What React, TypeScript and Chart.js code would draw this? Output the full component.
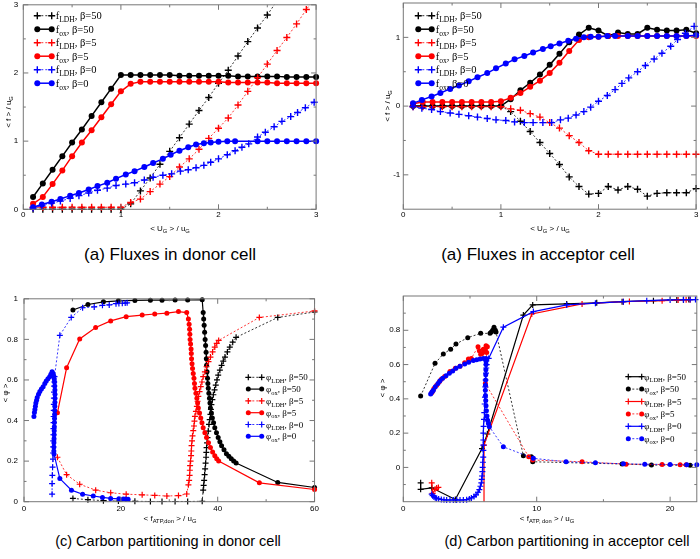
import React, { useEffect, useRef } from "react";
import { Chart, registerables } from "chart.js";
Chart.register(...registerables);

// ---------------- DATA ----------------
// (a) Fluxes in donor cell
const A_X = [0.1,0.2,0.3,0.4,0.5,0.6,0.7,0.8,0.9,1.0,1.1,1.2,1.3,1.4,1.5,1.6,1.7,1.8,1.9,2.0,2.1,2.2,2.3,2.4,2.5,2.6,2.7,2.8,2.9,3.0];
const A_LDH50 = [0,0,0,0,0,0,0,0,0,0,0.08,0.27,0.46,0.66,0.85,1.05,1.25,1.45,1.64,1.85,2.04,2.25,2.46,2.66,2.85,3.06,3.26,3.46,3.66,3.86];
const A_OX50 = [0.18,0.38,0.58,0.78,0.98,1.17,1.37,1.57,1.77,1.97,1.97,1.97,1.97,1.97,1.97,1.96,1.96,1.96,1.96,1.96,1.96,1.95,1.95,1.95,1.95,1.95,1.94,1.94,1.94,1.94];
const A_LDH5 = [0.03,0.03,0.03,0.03,0.03,0.03,0.03,0.03,0.03,0.03,0.1,0.15,0.26,0.37,0.48,0.62,0.74,0.88,1.04,1.19,1.34,1.53,1.73,1.93,2.13,2.33,2.52,2.72,2.93,3.13];
const A_OX5 = [0.08,0.18,0.37,0.57,0.78,0.98,1.16,1.35,1.54,1.73,1.84,1.87,1.87,1.87,1.87,1.87,1.87,1.87,1.87,1.87,1.86,1.86,1.86,1.86,1.86,1.85,1.85,1.85,1.85,1.85];
const A_LDH0_X = [0.1,0.19,0.29,0.38,0.48,0.57,0.67,0.76,0.86,0.95,1.05,1.14,1.24,1.33,1.43,1.52,1.61,1.69,1.77,1.85,1.92,2.0,2.09,2.17,2.24,2.31,2.4,2.48,2.57,2.65,2.74,2.81,2.89,2.98];
const A_LDH0 = [0.02,0.05,0.09,0.12,0.16,0.2,0.24,0.28,0.31,0.35,0.37,0.39,0.43,0.47,0.5,0.52,0.56,0.58,0.61,0.645,0.69,0.74,0.8,0.86,0.91,0.96,1.06,1.13,1.21,1.29,1.36,1.42,1.49,1.57];
const A_OX0_X = [0.1,0.19,0.29,0.38,0.48,0.57,0.67,0.76,0.86,0.95,1.05,1.14,1.24,1.33,1.43,1.51,1.6,1.69,1.77,1.85,1.92,2.0,2.09,2.17,2.4,2.5,2.6,2.7,2.8,2.9,3.0];
const A_OX0 = [0.03,0.07,0.11,0.15,0.2,0.24,0.29,0.34,0.39,0.45,0.51,0.56,0.62,0.68,0.74,0.8,0.86,0.91,0.95,0.97,0.98,0.99,1.0,1.0,1.0,1.0,1.0,1.0,1.0,1.0,1.0];
const A_X_TICKS = [0, 1, 2, 3];
const A_Y_TICKS = [0, 1, 2, 3];
const A_X_MINOR = [0.5, 1.5, 2.5];
const A_Y_MINOR = [0.5, 1.5, 2.5];

// (b) Fluxes in acceptor cell
const B_X = [0.1,0.2,0.3,0.4,0.5,0.6,0.7,0.8,0.9,1.0,1.1,1.2,1.3,1.4,1.5,1.6,1.7,1.8,1.9,2.0,2.1,2.2,2.3,2.4,2.5,2.6,2.7,2.8,2.9,3.0];
const B_LDH50 = [0,0,0,0,0,0,0,0,0,0,-0.08,-0.22,-0.37,-0.53,-0.69,-0.85,-1.03,-1.17,-1.28,-1.27,-1.17,-1.22,-1.17,-1.21,-1.31,-1.27,-1.26,-1.26,-1.26,-1.2];
const B_OX50 = [0,0,0,0,0,0,0,0,0,0,0.1,0.23,0.34,0.46,0.6,0.76,0.93,1.04,1.14,1.1,1.02,1.07,1.05,1.05,1.14,1.11,1.1,1.1,1.11,1.06];
const B_LDH5 = [-0.01,-0.01,-0.01,-0.01,-0.01,-0.01,-0.01,-0.01,-0.01,-0.01,-0.04,-0.06,-0.11,-0.16,-0.24,-0.32,-0.43,-0.53,-0.65,-0.7,-0.7,-0.7,-0.7,-0.7,-0.7,-0.7,-0.7,-0.7,-0.7,-0.7];
const B_OX5 = [0.035,0.06,0.06,0.06,0.06,0.06,0.06,0.06,0.06,0.07,0.12,0.19,0.28,0.37,0.48,0.63,0.8,0.96,1.0,1.01,1.02,1.02,1.02,1.02,1.02,1.02,1.02,1.02,1.02,1.02];
const B_LDH0_X = [0.1,0.19,0.29,0.38,0.48,0.57,0.67,0.76,0.86,0.95,1.05,1.14,1.24,1.33,1.43,1.52,1.61,1.69,1.77,1.85,1.92,2.0,2.09,2.17,2.24,2.31,2.4,2.48,2.57,2.65,2.74,2.81,2.89,2.98];
const B_LDH0 = [-0.01,-0.03,-0.05,-0.08,-0.1,-0.12,-0.14,-0.16,-0.18,-0.2,-0.21,-0.23,-0.24,-0.24,-0.24,-0.24,-0.2,-0.175,-0.13,-0.08,-0.015,0.07,0.155,0.24,0.33,0.41,0.5,0.59,0.685,0.77,0.87,0.97,1.06,1.16];
const B_OX0_X = [0.1,0.19,0.29,0.38,0.48,0.57,0.67,0.76,0.86,0.95,1.05,1.14,1.24,1.33,1.43,1.51,1.6,1.69,1.77,1.85,1.92,2.0,2.09,2.17,2.3,2.4,2.5,2.6,2.7,2.8,2.9,3.0];
const B_OX0 = [0.04,0.09,0.14,0.19,0.25,0.3,0.36,0.42,0.48,0.55,0.62,0.68,0.73,0.78,0.83,0.87,0.91,0.95,0.98,1.0,1.01,1.01,1.02,1.02,1.02,1.02,1.02,1.02,1.02,1.02,1.02,1.03];
const B_X_TICKS = [0, 1, 2, 3];
const B_Y_TICKS = [-1, 0, 1];
const B_X_MINOR = [0.5, 1.5, 2.5];
const B_Y_MINOR = [-0.5, 0.5];

// (c) Carbon partitioning in donor cell
const C_OX50_X = [10.1,13.2,16.4,19.5,22.9,26.1,28.5,31.2,33.8,36.8,37.0,37.1,37.2,37.3,37.4,37.5,37.6,37.65,37.7,37.8,37.9,37.97,38.05,38.17,38.3,38.4,38.5,38.7,38.9,39.15,39.4,39.75,40.1,40.45,40.8,41.3,41.8,42.3,42.8,43.3,43.8,52.4,60];
const C_OX50 = [0.945,0.972,0.985,0.99,0.992,0.993,0.993,0.994,0.994,0.995,0.932,0.9,0.87,0.835,0.8,0.77,0.737,0.705,0.672,0.64,0.608,0.583,0.559,0.535,0.51,0.486,0.462,0.437,0.413,0.389,0.365,0.34,0.316,0.296,0.276,0.256,0.236,0.224,0.212,0.2,0.191,0.095,0.07];
const C_LDH50_X = [10.1,13.2,16.4,19.5,22.9,26.1,28.5,31.2,33.8,36.8,37.0,37.1,37.2,37.3,37.4,37.5,37.6,37.65,37.7,37.8,37.9,38.05,38.2,38.35,38.5,38.6,38.7,38.9,39.1,39.35,39.6,39.85,40.1,40.45,40.8,41.15,41.5,42.0,42.5,43.1,43.8,52.4,60];
const C_LDH50 = [0.016,0.01,0.005,0.003,0.002,0.001,0.001,0.001,0.001,0.002,0.057,0.08,0.105,0.133,0.162,0.19,0.219,0.243,0.267,0.29,0.316,0.348,0.381,0.405,0.43,0.455,0.478,0.503,0.527,0.551,0.575,0.6,0.624,0.648,0.672,0.693,0.713,0.738,0.762,0.786,0.81,0.908,0.935];
const C_B5_X = [6.9,8.8,11.5,14.8,17.9,21.1,24.4,27.0,29.5,31.9,33.6,33.95,34.1,34.2,34.25,34.3,34.4,34.5,34.55,34.6,34.7,34.8,34.95,35.1,35.2,35.3,35.5,35.7,35.85,36.0,36.25,36.5,36.75,37.0,37.35,37.7,38.1,38.5,38.95,39.4,39.8,40.2,48.6,60];
const C_OX5 = [0.438,0.66,0.802,0.859,0.891,0.912,0.92,0.925,0.929,0.937,0.932,0.9,0.875,0.85,0.825,0.8,0.777,0.753,0.73,0.705,0.68,0.656,0.632,0.608,0.583,0.559,0.535,0.51,0.486,0.462,0.437,0.413,0.389,0.365,0.34,0.316,0.29,0.267,0.245,0.227,0.212,0.2,0.093,0.06];
const C_LDH5 = [0.219,0.133,0.086,0.057,0.044,0.037,0.034,0.031,0.028,0.03,0.038,0.083,0.105,0.13,0.155,0.178,0.2,0.227,0.25,0.276,0.3,0.324,0.35,0.373,0.397,0.421,0.445,0.47,0.495,0.519,0.543,0.567,0.59,0.616,0.64,0.665,0.69,0.713,0.738,0.762,0.78,0.795,0.908,0.94];
const C_OX0_X = [2.05,2.15,2.25,2.35,2.45,2.6,2.73,3.0,3.27,3.6,3.95,4.3,4.6,4.95,5.3,5.55,5.8,6.0,6.15,6.25,6.3,6.35,6.38,6.4,6.4,6.38,6.36,6.34,6.32,6.3,6.28,6.26,6.24,6.22,6.2,6.18,6.17,6.16,6.2,7.4,9.8,12.1,14.3,16.2,17.9,19.6,20.5,21.0,21.5];
const C_OX0 = [0.42,0.44,0.454,0.47,0.487,0.5,0.514,0.53,0.543,0.555,0.567,0.582,0.595,0.606,0.616,0.628,0.64,0.632,0.62,0.605,0.59,0.57,0.55,0.53,0.51,0.49,0.47,0.45,0.43,0.41,0.39,0.37,0.35,0.33,0.31,0.29,0.27,0.25,0.235,0.114,0.057,0.037,0.028,0.021,0.016,0.014,0.013,0.013,0.012];
const C_LDH0_X = [5.8,5.8,5.85,5.9,5.98,6.0,6.02,6.04,6.06,6.08,6.1,6.12,6.14,6.16,6.18,6.2,6.22,6.25,6.3,7.4,9.75,12.1,14.5,16.2,17.6,19.0,19.6,20.3,20.9,21.3];
const C_LDH0 = [0.037,0.089,0.13,0.17,0.21,0.24,0.27,0.3,0.33,0.36,0.39,0.42,0.45,0.48,0.51,0.54,0.57,0.59,0.616,0.82,0.908,0.956,0.96,0.968,0.97,0.976,0.977,0.978,0.979,0.98];
const C_X_TICKS = [0, 20, 40, 60];
const C_Y_TICKS = [0, 0.2, 0.4, 0.6, 0.8, 1];
const C_X_MINOR = [10, 30, 50];
const C_Y_MINOR = [0.1, 0.3, 0.5, 0.7, 0.9];

// (d) Carbon partitioning in acceptor cell
const D_LDH50_X = [1.3,1.3,2.13,3.9,5.9,6.3,9.0,9.7,12.25,14.5,16.4,18.75,20.5,21.0,21.4];
const D_LDH50 = [-0.09,-0.128,-0.119,-0.187,0.11,0.195,0.889,0.948,0.954,0.96,0.967,0.973,0.977,0.978,0.979];
const D_OX50_X = [1.3,2.38,3.0,3.55,3.95,4.83,5.8,6.5,6.6,6.7,6.8,6.9,6.95,9.0,9.6,9.7,16.4,18.6,21.5];
const D_OX50 = [0.416,0.607,0.662,0.69,0.72,0.757,0.782,0.782,0.79,0.8,0.818,0.8,0.79,0.068,0.062,0.033,0.02,0.014,0.012];
const D_LDH5_X = [2.13,2.2,2.38,2.5,2.63,4.0,6.05,6.05,9.63,13.4,16.5,16.95,19.4,20.6,21.2,21.5];
const D_LDH5 = [-0.09,-0.152,-0.128,-0.12,-0.117,null,-0.25,0.13,0.895,0.954,0.967,0.968,0.973,0.976,0.978,0.978];
const D_OX5_X = [2.13,2.2,2.3,2.5,2.7,2.85,3.1,3.5,3.9,4.25,4.6,4.88,5.1,5.6,5.7,5.8,5.9,6.0,6.1,6.15,6.2,6.3,6.25,6.15,9.4,9.7,13.4,16.7,19.4,20.75,21.2];
const D_OX5 = [0.436,0.445,0.46,0.48,0.5,0.515,0.53,0.56,0.578,0.59,0.61,0.632,0.636,0.704,0.68,0.66,0.665,0.69,0.675,0.686,0.71,0.704,0.67,0.49,0.062,0.043,0.033,0.019,0.017,0.016,0.016];
const D_LDH0_X = [2.13,2.2,2.3,2.4,2.5,2.65,2.85,3.05,3.25,3.5,3.75,4.0,4.25,4.5,4.75,4.95,5.1,5.3,5.45,5.6,5.7,5.78,5.85,5.88,5.9,5.93,5.95,5.97,5.99,6.0,6.0,6.0,6.0,6.02,6.05,6.07,6.1,6.12,6.15,6.17,6.2,6.22,6.25,6.4,7.5,9.75,12.25,14.4,16.5,18.25,20.0,21.0,21.5,21.9];
const D_LDH0 = [-0.156,-0.165,-0.172,-0.177,-0.18,-0.184,-0.187,-0.189,-0.19,-0.19,-0.19,-0.19,-0.19,-0.19,-0.188,-0.184,-0.178,-0.17,-0.16,-0.145,-0.13,-0.11,-0.09,-0.07,-0.05,-0.025,0.0,0.03,0.06,0.1,0.13,0.16,0.2,0.24,0.28,0.32,0.37,0.41,0.47,0.51,0.55,0.58,0.6,0.636,0.818,0.909,0.948,0.958,0.967,0.973,0.977,0.978,0.979,0.979];
const D_OX0_X = [2.05,2.15,2.25,2.4,2.6,2.75,2.95,3.2,3.45,3.7,3.95,4.25,4.6,4.9,5.25,5.5,5.75,6.0,6.2,6.2,6.2,6.19,6.18,6.17,6.16,6.15,6.16,6.18,6.2,6.23,6.27,6.32,6.38,6.45,7.5,9.75,12.2,14.4,16.5,18.1,20.0,21.25,22.0];
const D_OX0 = [0.428,0.44,0.45,0.47,0.49,0.505,0.52,0.535,0.549,0.563,0.578,0.59,0.603,0.613,0.623,0.628,0.632,0.635,0.636,0.62,0.6,0.57,0.54,0.51,0.48,0.45,0.42,0.39,0.36,0.33,0.3,0.275,0.256,0.237,0.12,0.053,0.033,0.027,0.021,0.019,0.017,0.016,0.016];
const D_X_TICKS = [0, 10, 20];
const D_Y_TICKS = [0, 0.2, 0.4, 0.6, 0.8];
const D_X_MINOR = [5, 15];
const D_Y_MINOR = [-0.1, 0.1, 0.3, 0.5, 0.7, 0.9];

const BETAS = ["50", "5", "0"];
const CAPTIONS = [
  "(a) Fluxes in donor cell",
  "(a) Fluxes in acceptor cell",
  "(c) Carbon partitioning in donor cell",
  "(d) Carbon partitioning in acceptor cell",
];

// ---------------- STYLE / RENDER ----------------
const BLACK = "#000000";
const RED = "#ff0000";
const BLUE = "#0000ff";
const FRAME = "#777777";
const SANS = '"Liberation Sans", Arial, Helvetica, sans-serif';
const SERIF = '"Liberation Serif", "Times New Roman", serif';

type Seg = { t: string; sub?: boolean };
type Marker = "circle" | "cross";
type Series = { xs: number[]; ys: (number | null)[]; color: string; marker: Marker; dashed: boolean; clip?: any };
type LegendItem = { segs: Seg[]; color: string; marker: Marker; dashed: boolean };
type Title = { segs: Seg[]; x: number; y: number; rotate?: boolean };
type Spec = {
  left: number; top: number; width: number; height: number;
  yAxisW: number; xAxisH: number;
  xMin: number; xMax: number; yMin: number; yMax: number;
  xTicks: number[]; yTicks: number[]; xMinor: number[]; yMinor: number[];
  xPad: number; yPad: number; tickFont: number;
  rCircle: number; rCross: number; crossW: number; solidW: number; dashW: number;
  series: Series[];
  legend: { x0: number; w: number; textX: number; y0: number; dy: number; size: number; items: LegendItem[] };
  titles: Title[]; titleSize: number;
};

const COLORS = [BLACK, RED, BLUE];

function legendItems(sym: string, ldhDashed: boolean): LegendItem[] {
  const out: LegendItem[] = [];
  BETAS.forEach((b, i) => {
    out.push({ segs: [{ t: sym }, { t: "LDH", sub: true }, { t: ", \u03b2=" + b }], color: COLORS[i], marker: "cross", dashed: ldhDashed });
    out.push({ segs: [{ t: sym }, { t: "ox", sub: true }, { t: ", \u03b2=" + b }], color: COLORS[i], marker: "circle", dashed: !ldhDashed });
  });
  return out;
}

function drawRich(ctx: CanvasRenderingContext2D, segs: Seg[], x: number, yMid: number, size: number, family: string, align: "left" | "center", color: string) {
  const sub = size * 0.72;
  let w = 0;
  for (const s of segs) {
    ctx.font = `${s.sub ? sub : size}px ${family}`;
    w += ctx.measureText(s.t).width;
  }
  let cx = align === "center" ? x - w / 2 : x;
  const base = yMid + size * 0.35;
  ctx.fillStyle = color;
  ctx.textAlign = "left";
  ctx.textBaseline = "alphabetic";
  for (const s of segs) {
    ctx.font = `${s.sub ? sub : size}px ${family}`;
    ctx.fillText(s.t, cx, s.sub ? base + size * 0.28 : base);
    cx += ctx.measureText(s.t).width;
  }
}

function drawMarker(ctx: CanvasRenderingContext2D, m: Marker, x: number, y: number, spec: Spec, color: string) {
  ctx.setLineDash([]);
  if (m === "circle") {
    ctx.fillStyle = color;
    ctx.beginPath();
    ctx.arc(x, y, spec.rCircle, 0, Math.PI * 2);
    ctx.fill();
  } else {
    ctx.strokeStyle = color;
    ctx.lineWidth = spec.crossW;
    ctx.beginPath();
    ctx.moveTo(x - spec.rCross, y);
    ctx.lineTo(x + spec.rCross, y);
    ctx.moveTo(x, y - spec.rCross);
    ctx.lineTo(x, y + spec.rCross);
    ctx.stroke();
  }
}

function decoPlugin(spec: Spec) {
  return {
    id: "deco",
    afterDraw(chart: any) {
      const ctx: CanvasRenderingContext2D = chart.ctx;
      const a = chart.chartArea;
      const xs = chart.scales.x;
      const ys = chart.scales.y;
      const ox = spec.left;
      const oy = spec.top;
      ctx.save();
      ctx.setLineDash([]);
      ctx.strokeStyle = FRAME;
      ctx.lineWidth = 1;
      ctx.strokeRect(a.left, a.top, a.right - a.left, a.bottom - a.top);
      const xt = (v: number, len: number) => {
        const p = xs.getPixelForValue(v);
        ctx.moveTo(p, a.bottom); ctx.lineTo(p, a.bottom - len);
        ctx.moveTo(p, a.top); ctx.lineTo(p, a.top + len);
      };
      const yt = (v: number, len: number) => {
        const p = ys.getPixelForValue(v);
        ctx.moveTo(a.left, p); ctx.lineTo(a.left + len, p);
        ctx.moveTo(a.right, p); ctx.lineTo(a.right - len, p);
      };
      ctx.beginPath();
      spec.xTicks.forEach((v) => xt(v, 5));
      spec.xMinor.forEach((v) => xt(v, 2.5));
      spec.yTicks.forEach((v) => yt(v, 5));
      spec.yMinor.forEach((v) => yt(v, 2.5));
      ctx.stroke();
      for (const t of spec.titles) {
        if (t.rotate) {
          ctx.save();
          ctx.translate(t.x - ox, t.y - oy);
          ctx.rotate(-Math.PI / 2);
          drawRich(ctx, t.segs, 0, 0, spec.titleSize, SANS, "center", "#000");
          ctx.restore();
        } else {
          drawRich(ctx, t.segs, t.x - ox, t.y - oy, spec.titleSize, SANS, "center", "#000");
        }
      }
      const L = spec.legend;
      L.items.forEach((it, i) => {
        const y = L.y0 + i * L.dy - oy;
        const x0 = L.x0 - ox;
        ctx.strokeStyle = it.color;
        ctx.lineWidth = it.dashed ? spec.dashW : spec.solidW;
        ctx.setLineDash(it.dashed ? [2, 2] : []);
        ctx.beginPath();
        ctx.moveTo(x0, y);
        ctx.lineTo(x0 + L.w, y);
        ctx.stroke();
        drawMarker(ctx, it.marker, x0, y, spec, it.color);
        drawMarker(ctx, it.marker, x0 + L.w, y, spec, it.color);
        drawRich(ctx, it.segs, L.textX - ox, y, L.size, SERIF, "left", "#000");
      });
      ctx.restore();
    },
  };
}

function buildConfig(spec: Spec): any {
  const n = spec.series.length;
  const datasets = spec.series.map((s, i) => ({
    data: s.xs.map((x, k) => ({ x, y: s.ys[k] })),
    borderColor: s.color,
    backgroundColor: s.color,
    borderWidth: s.dashed ? spec.dashW : spec.solidW,
    borderDash: s.dashed ? [2, 2] : [],
    pointStyle: s.marker === "circle" ? "circle" : "cross",
    pointRadius: s.marker === "circle" ? spec.rCircle : spec.rCross,
    pointHoverRadius: s.marker === "circle" ? spec.rCircle : spec.rCross,
    pointBorderWidth: s.marker === "circle" ? 0 : spec.crossW,
    pointBackgroundColor: s.color,
    pointBorderColor: s.color,
    tension: 0,
    spanGaps: false,
    fill: false,
    clip: s.clip ?? 8,
    order: n - i,
  }));
  const tickFont = { family: SANS, size: spec.tickFont };
  return {
    type: "line",
    data: { datasets },
    options: {
      responsive: false,
      animation: false,
      devicePixelRatio: 1,
      events: [],
      layout: { padding: { left: 0, top: 8, right: 4, bottom: 0 } },
      plugins: { legend: { display: false }, tooltip: { enabled: false } },
      scales: {
        x: {
          type: "linear",
          min: spec.xMin,
          max: spec.xMax,
          grid: { display: false, drawTicks: false },
          border: { display: false },
          afterBuildTicks: (ax: any) => { ax.ticks = spec.xTicks.map((v) => ({ value: v })); },
          afterFit: (ax: any) => { ax.height = spec.xAxisH; },
          ticks: { padding: spec.xPad, font: tickFont, color: "#000", autoSkip: false, maxRotation: 0, callback: (v: any) => String(v) },
        },
        y: {
          type: "linear",
          min: spec.yMin,
          max: spec.yMax,
          grid: { display: false, drawTicks: false },
          border: { display: false },
          afterBuildTicks: (ax: any) => { ax.ticks = spec.yTicks.map((v) => ({ value: v })); },
          afterFit: (ax: any) => { ax.width = spec.yAxisW; },
          ticks: { padding: spec.yPad, font: tickFont, color: "#000", autoSkip: false, callback: (v: any) => String(v) },
        },
      },
    },
    plugins: [decoPlugin(spec)],
  };
}

function Panel({ spec }: { spec: Spec }) {
  const ref = useRef<HTMLCanvasElement>(null);
  useEffect(() => {
    const chart = new Chart(ref.current as HTMLCanvasElement, buildConfig(spec));
    return () => chart.destroy();
  }, [spec]);
  return (
    <canvas
      ref={ref}
      width={spec.width}
      height={spec.height}
      style={{ position: "absolute", left: spec.left, top: spec.top, width: spec.width, height: spec.height }}
    />
  );
}

const TOP_STYLE = { tickFont: 8, rCircle: 3, rCross: 3.5, crossW: 1.4, solidW: 1.5, dashW: 0.8, titleSize: 8 };
const BOT_STYLE = { tickFont: 8, rCircle: 2.5, rCross: 3, crossW: 1.2, solidW: 1.2, dashW: 0.8, titleSize: 8 };

const fTitleY: Seg[] = [{ t: "< f > / u" }, { t: "G", sub: true }];
const fTitleX: Seg[] = [{ t: "< U" }, { t: "G", sub: true }, { t: " > / u" }, { t: "G", sub: true }];
const phiTitle: Seg[] = [{ t: "< \u03c6 >" }];

const SPEC_A: Spec = {
  left: 0, top: -5, width: 321, height: 244, yAxisW: 23.3, xAxisH: 29.7,
  xMin: 0, xMax: 3, yMin: 0, yMax: 3,
  xTicks: A_X_TICKS, yTicks: A_Y_TICKS, xMinor: A_X_MINOR, yMinor: A_Y_MINOR,
  xPad: 1, yPad: 5, ...TOP_STYLE,
  series: [
    { xs: A_X, ys: A_LDH50, color: BLACK, marker: "cross", dashed: true, clip: { left: 8, right: 8, top: 0, bottom: 8 } },
    { xs: A_X, ys: A_OX50, color: BLACK, marker: "circle", dashed: false },
    { xs: A_X, ys: A_LDH5, color: RED, marker: "cross", dashed: true, clip: { left: 8, right: 8, top: 0, bottom: 8 } },
    { xs: A_X, ys: A_OX5, color: RED, marker: "circle", dashed: false },
    { xs: A_LDH0_X, ys: A_LDH0, color: BLUE, marker: "cross", dashed: true },
    { xs: A_OX0_X, ys: A_OX0, color: BLUE, marker: "circle", dashed: false },
  ],
  legend: { x0: 37.3, w: 14.4, textX: 55.7, y0: 15.7, dy: 13.5, size: 10.5, items: legendItems("f", true) },
  titles: [
    { segs: fTitleY, x: 8, y: 112, rotate: true },
    { segs: fTitleX, x: 170, y: 228 },
  ],
};

const SPEC_B: Spec = {
  left: 370, top: -5, width: 331, height: 244, yAxisW: 33.3, xAxisH: 29.8,
  xMin: 0, xMax: 3, yMin: -1.5, yMax: 1.5,
  xTicks: B_X_TICKS, yTicks: B_Y_TICKS, xMinor: B_X_MINOR, yMinor: B_Y_MINOR,
  xPad: 1, yPad: 3, ...TOP_STYLE,
  series: [
    { xs: B_X, ys: B_LDH50, color: BLACK, marker: "cross", dashed: true },
    { xs: B_X, ys: B_OX50, color: BLACK, marker: "circle", dashed: false },
    { xs: B_X, ys: B_LDH5, color: RED, marker: "cross", dashed: true },
    { xs: B_X, ys: B_OX5, color: RED, marker: "circle", dashed: false },
    { xs: B_LDH0_X, ys: B_LDH0, color: BLUE, marker: "cross", dashed: true },
    { xs: B_OX0_X, ys: B_OX0, color: BLUE, marker: "circle", dashed: false },
  ],
  legend: { x0: 418.3, w: 13.4, textX: 435.7, y0: 15.7, dy: 13.5, size: 10.5, items: legendItems("f", true) },
  titles: [
    { segs: fTitleY, x: 387, y: 106, rotate: true },
    { segs: fTitleX, x: 550, y: 228 },
  ],
};

const SPEC_C: Spec = {
  left: 0, top: 288, width: 321, height: 244, yAxisW: 24, xAxisH: 30.3,
  xMin: 0, xMax: 60, yMin: 0, yMax: 1,
  xTicks: C_X_TICKS, yTicks: C_Y_TICKS, xMinor: C_X_MINOR, yMinor: C_Y_MINOR,
  xPad: 2, yPad: 6, ...BOT_STYLE,
  series: [
    { xs: C_LDH50_X, ys: C_LDH50, color: BLACK, marker: "cross", dashed: true },
    { xs: C_OX50_X, ys: C_OX50, color: BLACK, marker: "circle", dashed: false },
    { xs: C_B5_X, ys: C_LDH5, color: RED, marker: "cross", dashed: true },
    { xs: C_B5_X, ys: C_OX5, color: RED, marker: "circle", dashed: false },
    { xs: C_LDH0_X, ys: C_LDH0, color: BLUE, marker: "cross", dashed: true },
    { xs: C_OX0_X, ys: C_OX0, color: BLUE, marker: "circle", dashed: false },
  ],
  legend: { x0: 248.3, w: 13.4, textX: 266, y0: 377.3, dy: 11.8, size: 9, items: legendItems("\u03c6", true) },
  titles: [
    { segs: phiTitle, x: 5, y: 393, rotate: true },
    { segs: [{ t: "< f" }, { t: "ATP,don", sub: true }, { t: " > / u" }, { t: "G", sub: true }], x: 170, y: 518 },
  ],
};

const SPEC_D: Spec = {
  left: 370, top: 288, width: 331, height: 244, yAxisW: 33.3, xAxisH: 30.3,
  xMin: 0, xMax: 22, yMin: -0.2, yMax: 1.0,
  xTicks: D_X_TICKS, yTicks: D_Y_TICKS, xMinor: D_X_MINOR, yMinor: D_Y_MINOR,
  xPad: 2, yPad: 3, ...BOT_STYLE,
  series: [
    { xs: D_LDH50_X, ys: D_LDH50, color: BLACK, marker: "cross", dashed: false },
    { xs: D_OX50_X, ys: D_OX50, color: BLACK, marker: "circle", dashed: true },
    { xs: D_LDH5_X, ys: D_LDH5, color: RED, marker: "cross", dashed: false, clip: { left: 8, right: 8, top: 8, bottom: 0 } },
    { xs: D_OX5_X, ys: D_OX5, color: RED, marker: "circle", dashed: true },
    { xs: D_LDH0_X, ys: D_LDH0, color: BLUE, marker: "cross", dashed: false },
    { xs: D_OX0_X, ys: D_OX0, color: BLUE, marker: "circle", dashed: true },
  ],
  legend: { x0: 628.3, w: 13.4, textX: 644.3, y0: 376.7, dy: 12.4, size: 9, items: legendItems("\u03c6", false) },
  titles: [
    { segs: phiTitle, x: 382, y: 388, rotate: true },
    { segs: [{ t: "< f" }, { t: "ATP, don", sub: true }, { t: " > / u" }, { t: "G", sub: true }], x: 547, y: 518 },
  ],
};

const CAPTION_POS = [
  { x: 170, y: 254, size: 17 },
  { x: 538, y: 254, size: 17 },
  { x: 168, y: 541, size: 14.5 },
  { x: 567, y: 541, size: 14.5 },
];

export default function App() {
  return (
    <div style={{ position: "absolute", left: 0, top: 0, width: 700, height: 559, overflow: "hidden", background: "#fff" }}>
      <Panel spec={SPEC_A} />
      <Panel spec={SPEC_B} />
      <Panel spec={SPEC_C} />
      <Panel spec={SPEC_D} />
      {CAPTIONS.map((c, i) => (
        <div
          key={i}
          style={{
            position: "absolute",
            left: CAPTION_POS[i].x,
            top: CAPTION_POS[i].y,
            transform: "translate(-50%, -50%)",
            whiteSpace: "nowrap",
            fontFamily: SANS,
            fontSize: CAPTION_POS[i].size,
            color: "#000",
            lineHeight: 1,
          }}
        >
          {c}
        </div>
      ))}
    </div>
  );
}
